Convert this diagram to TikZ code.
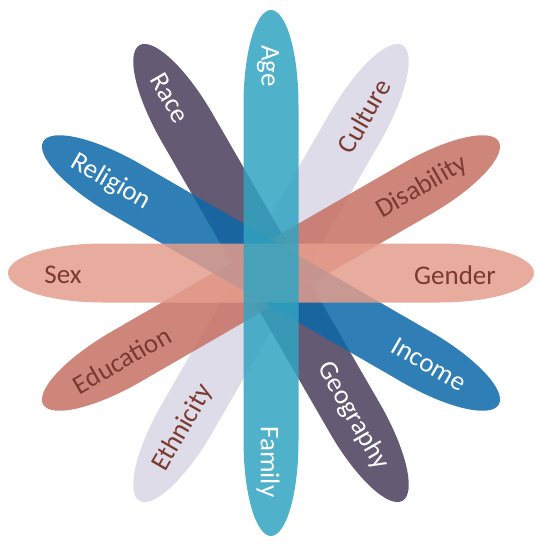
\documentclass[tikz,border=0pt]{standalone}
\usepackage{fontspec}
\setmainfont{Carlito}
\definecolor{petalteal}{RGB}{49,164,193}
\definecolor{petalsalmon}{RGB}{228,157,141}
\definecolor{petalterra}{RGB}{199,113,99}
\definecolor{petalblue}{RGB}{10,103,168}
\definecolor{petalpurple}{RGB}{73,61,90}
\definecolor{petallav}{RGB}{215,214,228}
\definecolor{labelbrown}{RGB}{122,58,48}
\newcommand\petal[3]{%
  \begin{scope}[shift={(271,-273)}, rotate=#1]
    \fill[#2, fill opacity=0.85] (-168,#3) -- (168,#3)
      arc[start angle=90, end angle=-90, x radius=95pt, y radius=#3pt]
      -- (-168,-#3)
      arc[start angle=270, end angle=90, x radius=95pt, y radius=#3pt]
      -- cycle;
  \end{scope}}
\begin{document}
\begin{tikzpicture}[x=1pt,y=1pt,
  lbl/.style={font=\fontsize{27}{30}\selectfont, inner sep=0pt},
  wlbl/.style={lbl, text=white},
  dlbl/.style={lbl, text=labelbrown}]
\useasboundingbox (0,0) rectangle (550,-550);
\petal{60}{petallav}{29}
\petal{120}{petalpurple}{29}
\petal{30}{petalterra}{29}
\petal{150}{petalblue}{29}
\petal{0}{petalsalmon}{29.5}
\petal{90}{petalteal}{27.5}
\node[wlbl, rotate=-90] (age) at (268,-66) {Age};
\node[wlbl, rotate=-90] (family) at (268,-462) {Family};
\node[wlbl, rotate=-60] (race) at (170,-98) {Race};
\node[wlbl, rotate=-60] (geography) at (353,-416) {Geography};
\node[wlbl, rotate=-30] (religion) at (111,-182) {Religion};
\node[wlbl, rotate=-30] (income) at (429,-364) {Income};
\node[dlbl, rotate=60] (culture) at (364,-116) {Culture};
\node[dlbl, rotate=60] (ethnicity) at (183,-428) {Ethnicity};
\node[dlbl, rotate=30] (disability) at (422,-187) {Disability};
\node[dlbl, rotate=30] (education) at (122,-360) {Education};
\node[dlbl] (sex) at (63,-275) {Sex};
\node[dlbl] (gender) at (455,-275) {Gender};
\end{tikzpicture}
\end{document}
